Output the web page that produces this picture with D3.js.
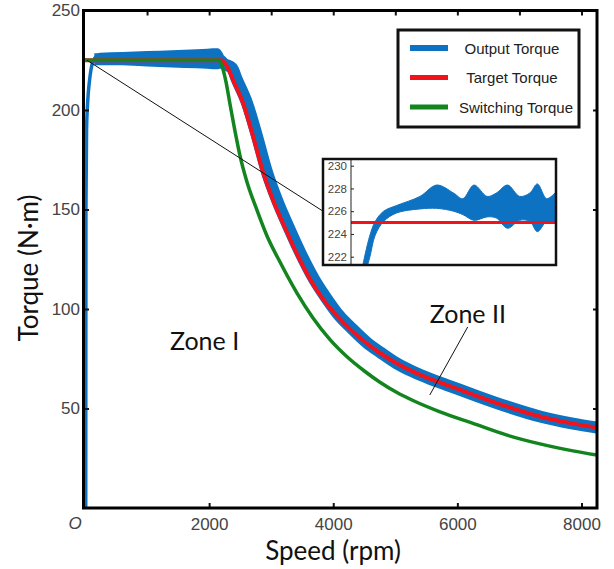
<!DOCTYPE html>
<html>
<head>
<meta charset="utf-8">
<script src="https://cdn.jsdelivr.net/npm/d3@7"></script>
<style>
body{margin:0;background:#fff}
svg{display:block}
</style>
</head>
<body>
<div id="chart"></div>
<script>
// values (speed in rpm, torque in N·m)
const targetSpeed  = [0, 2190, 2304, 2385, 2546, 2707, 2868, 3029, 3223, 3416, 3625, 3835, 4060, 4270, 4512, 4753, 5027, 5285, 5559, 5833, 6252, 6800, 7331, 7863, 8250]
const targetTorque = [225, 225, 221.1, 215.1, 203.5, 186.9, 168.8, 154.8, 140.7, 127.6, 115.1, 105.0, 96.5, 89.9, 83.4, 77.9, 72.6, 68.5, 64.9, 61.8, 57.0, 51.0, 46.0, 42.4, 40.4]

const switchSpeed  = [0, 2159, 2207, 2272, 2336, 2417, 2498, 2610, 2771, 2933, 3142, 3416, 3674, 3948, 4222, 4512, 4753, 5027, 5285, 5720, 6252, 6800, 7331, 7863, 8250]
const switchTorque = [225, 225, 222.1, 214.1, 203.0, 189.4, 176.9, 163.8, 149.7, 136.7, 123.6, 108.0, 95.5, 84.6, 76.0, 68.6, 63.2, 58.0, 54.0, 48.3, 42.5, 36.6, 32.2, 28.7, 26.6]

// output torque: start-up rise, ripple band on the flat part, mean curve after
const riseSpeed  = [12, 15, 25, 45, 70, 100, 140, 180]
const riseTorque = [0, 150, 190, 205, 214, 221, 225, 226]
const rippleSpeed = [130, 240, 600, 1000, 1400, 1800, 2140, 2230]
const rippleHigh  = [226.5, 228.8, 229.2, 229.6, 230, 230.5, 231, 228]
const rippleLow   = [224, 223.3, 222.6, 221.9, 221.4, 221, 220.5, 222]
const outSpeed  = [150, 2150, 2250, 2368, 2449, 2610, 2771, 2932, 3093, 3287, 3480, 3689, 3899, 4100, 4310, 4532, 4773, 5027, 5285, 5559, 5833, 6252, 6800, 7331, 7863, 8250]
const outTorque = [225.5, 225.5, 223, 221.1, 215.1, 203.5, 186.9, 168.8, 154.8, 140.7, 127.6, 115.1, 105.0, 96.5, 89.9, 83.4, 77.9, 72.6, 68.5, 64.9, 61.8, 57.0, 51.0, 46.0, 42.4, 40.4]

// zoomed inset of the output ripple
const insetSpeed = [130, 200, 260, 350, 490, 740, 920, 1100, 1200, 1320, 1460, 1560, 1680, 1810, 1920, 2000, 2100, 2200]
const insetHigh  = [221.4, 223.8, 225.1, 226.0, 226.5, 227.3, 228.3, 227.6, 227.1, 228.3, 227.3, 227.6, 228.3, 227.3, 227.6, 228.4, 227.1, 227.7]
const insetLow   = [220.0, 221.9, 223.9, 225.1, 225.85, 226.2, 226.25, 226.0, 225.7, 225.2, 225.5, 225.4, 224.5, 225.2, 225.1, 224.2, 225.1, 225.1]
const insetTarget = 225

const xTicksTop = [1000, 2000, 3000, 4000, 5000, 6000, 7000, 8000]
const xTicksBottom = [2000, 4000, 6000, 8000]
const yTicks = [50, 100, 150, 200, 250]
const insetTicks = [222, 224, 226, 228, 230]

const legendNames = ["Output Torque", "Target Torque", "Switching Torque"]
const colors = {out: "#0e72c2", target: "#f2121c", sw: "#13851f"}

const W = 614, H = 569
const plot = {left: 85, right: 597, top: 10.5, bottom: 508}

const svg = d3.select("#chart").append("svg")
	.attr("width", W).attr("height", H)
	.attr("viewBox", [0, 0, W, H])

const x = d3.scaleLinear().domain([0, 8250]).range([plot.left, plot.right])
const y = d3.scaleLinear().domain([0, 250]).range([plot.bottom, plot.top])

svg.append("clipPath").attr("id", "clip")
	.append("rect")
	.attr("x", plot.left).attr("y", plot.top)
	.attr("width", plot.right - plot.left).attr("height", plot.bottom - plot.top)

const zip = (a, b) => a.map((v, i) => [v, b[i]])

const line = d3.line()
	.x(d => x(d[0]))
	.y(d => y(d[1]))
	.curve(d3.curveMonotoneX)

const g = svg.append("g").attr("clip-path", "url(#clip)")

// output torque
g.append("path")
	.datum(rippleSpeed.map((s, i) => [s, rippleHigh[i], rippleLow[i]]))
	.attr("fill", colors.out)
	.attr("d", d3.area().x(d => x(d[0])).y0(d => y(d[2])).y1(d => y(d[1])).curve(d3.curveMonotoneX))
g.append("path")
	.datum(zip(outSpeed, outTorque))
	.attr("fill", "none")
	.attr("stroke", colors.out)
	.attr("stroke-width", 12)
	.attr("stroke-linejoin", "round")
	.attr("d", line)
g.append("path")
	.datum(zip(riseSpeed, riseTorque))
	.attr("fill", "none")
	.attr("stroke", colors.out)
	.attr("stroke-width", 3.5)
	.attr("d", line)

// target torque
g.append("path")
	.datum(zip(targetSpeed, targetTorque))
	.attr("fill", "none")
	.attr("stroke", colors.target)
	.attr("stroke-width", 4)
	.attr("d", line)

// switching torque
g.append("path")
	.datum(zip(switchSpeed, switchTorque))
	.attr("fill", "none")
	.attr("stroke", colors.sw)
	.attr("stroke-width", 3.5)
	.attr("d", line)

// inset
const box = {x: 323, y: 159, w: 233, h: 106, axis: 351}
const ix = d3.scaleLinear().domain([0, 2200]).range([box.axis, box.x + box.w])
const iy = d3.scaleLinear().domain([222, 230]).range([256.7, 165.7])

// connector from the main curve to the inset
svg.append("line")
	.attr("x1", x(0) + 2).attr("y1", y(225))
	.attr("x2", box.x).attr("y2", iy(226))
	.attr("stroke", "#111").attr("stroke-width", 1)

svg.append("rect")
	.attr("x", box.x).attr("y", box.y).attr("width", box.w).attr("height", box.h)
	.attr("fill", "#fff")

svg.append("clipPath").attr("id", "iclip")
	.append("rect")
	.attr("x", box.axis).attr("y", box.y).attr("width", box.x + box.w - box.axis).attr("height", box.h)

const ig = svg.append("g").attr("clip-path", "url(#iclip)")
ig.append("path")
	.datum(insetSpeed.map((s, i) => [s, insetHigh[i], insetLow[i]]))
	.attr("fill", colors.out)
	.attr("stroke", colors.out)
	.attr("stroke-width", 1)
	.attr("d", d3.area().x(d => ix(d[0])).y0(d => iy(d[2])).y1(d => iy(d[1])).curve(d3.curveCatmullRom))
ig.append("line")
	.attr("x1", box.axis).attr("x2", box.x + box.w)
	.attr("y1", iy(insetTarget)).attr("y2", iy(insetTarget))
	.attr("stroke", colors.target).attr("stroke-width", 3)

svg.append("line")
	.attr("x1", box.axis).attr("x2", box.axis)
	.attr("y1", box.y).attr("y2", box.y + box.h)
	.attr("stroke", "#222").attr("stroke-width", 1)

svg.append("g")
	.attr("transform", `translate(${box.axis},0)`)
	.call(d3.axisLeft(iy).tickValues(insetTicks).tickSize(-3).tickPadding(4))
	.call(a => a.select(".domain").remove())
	.call(a => a.selectAll("line").attr("stroke", "#222"))
	.call(a => a.selectAll("text").attr("font-family", "Liberation Sans, Arial, sans-serif").attr("font-size", 11.5).attr("fill", "#444"))

svg.append("rect")
	.attr("x", box.x).attr("y", box.y).attr("width", box.w).attr("height", box.h)
	.attr("fill", "none").attr("stroke", "#111").attr("stroke-width", 2.5)

// axes
const tickStyle = a => {
	a.select(".domain").remove()
	a.selectAll("line").attr("stroke", "#111").attr("stroke-width", 2)
	a.selectAll("text").attr("font-family", "Liberation Sans, Arial, sans-serif").attr("font-size", 17).attr("fill", "#444")
}

svg.append("g")
	.attr("transform", `translate(0,${plot.bottom})`)
	.call(d3.axisBottom(x).tickValues(xTicksBottom).tickSize(-5).tickPadding(10).tickFormat(d3.format("d")))
	.call(tickStyle)

svg.append("g")
	.attr("transform", `translate(0,${plot.top})`)
	.call(d3.axisTop(x).tickValues(xTicksTop).tickSize(-5).tickFormat(""))
	.call(tickStyle)

svg.append("g")
	.attr("transform", `translate(${plot.left},0)`)
	.call(d3.axisLeft(y).tickValues(yTicks).tickSize(-4).tickPadding(5))
	.call(tickStyle)

svg.append("g")
	.attr("transform", `translate(${plot.right},0)`)
	.call(d3.axisRight(y).tickValues(yTicks.slice(0, 4)).tickSize(-4).tickFormat(""))
	.call(tickStyle)

svg.append("rect")
	.attr("x", plot.left - 1.5).attr("y", plot.top)
	.attr("width", plot.right - plot.left + 1.5).attr("height", plot.bottom - plot.top)
	.attr("fill", "none").attr("stroke", "#000").attr("stroke-width", 3)

svg.append("text")
	.attr("x", 75).attr("y", 529)
	.attr("text-anchor", "middle")
	.attr("font-family", "Liberation Sans, Arial, sans-serif")
	.attr("font-style", "italic").attr("font-size", 17).attr("fill", "#444")
	.text("O")

// legend
const lg = svg.append("g").attr("transform", "translate(398,30)")
lg.append("rect")
	.attr("width", 181).attr("height", 97)
	.attr("fill", "#fff").attr("stroke", "#111").attr("stroke-width", 3)
const legendColors = [colors.out, colors.target, colors.sw]
const legendWidths = [6, 5, 5]
legendNames.forEach((name, i) => {
	const ly = 18 + i * 29.5
	lg.append("line")
		.attr("x1", 12).attr("x2", 50).attr("y1", ly).attr("y2", ly)
		.attr("stroke", legendColors[i]).attr("stroke-width", legendWidths[i])
	lg.append("text")
		.attr("x", i == 2 ? 118 : 114).attr("y", ly + 5.5)
		.attr("text-anchor", "middle")
		.attr("font-family", "Liberation Sans, Arial, sans-serif")
		.attr("font-size", 15).attr("fill", "#222")
		.text(name)
})

// zone annotations
const labelFont = "Lato, 'Open Sans', sans-serif"
svg.append("text")
	.attr("x", x(1369)).attr("y", y(79.4))
	.attr("font-family", labelFont).attr("font-size", 25).attr("fill", "#111")
	.text("Zone I")
svg.append("text")
	.attr("x", x(5556)).attr("y", y(93))
	.attr("font-family", labelFont).attr("font-size", 25).attr("fill", "#111")
	.text("Zone II")
svg.append("line")
	.attr("x1", x(6167)).attr("y1", y(91))
	.attr("x2", x(5556)).attr("y2", y(56.8))
	.attr("stroke", "#111").attr("stroke-width", 1)

// axis titles
svg.append("text")
	.attr("x", 333).attr("y", 560)
	.attr("text-anchor", "middle")
	.attr("font-family", labelFont).attr("font-size", 26).attr("fill", "#111")
	.text("Speed (rpm)")
svg.append("text")
	.attr("transform", "translate(38,268) rotate(-90)")
	.attr("text-anchor", "middle")
	.attr("font-family", labelFont).attr("font-size", 26).attr("fill", "#111")
	.text("Torque (N·m)")
</script>
</body>
</html>
